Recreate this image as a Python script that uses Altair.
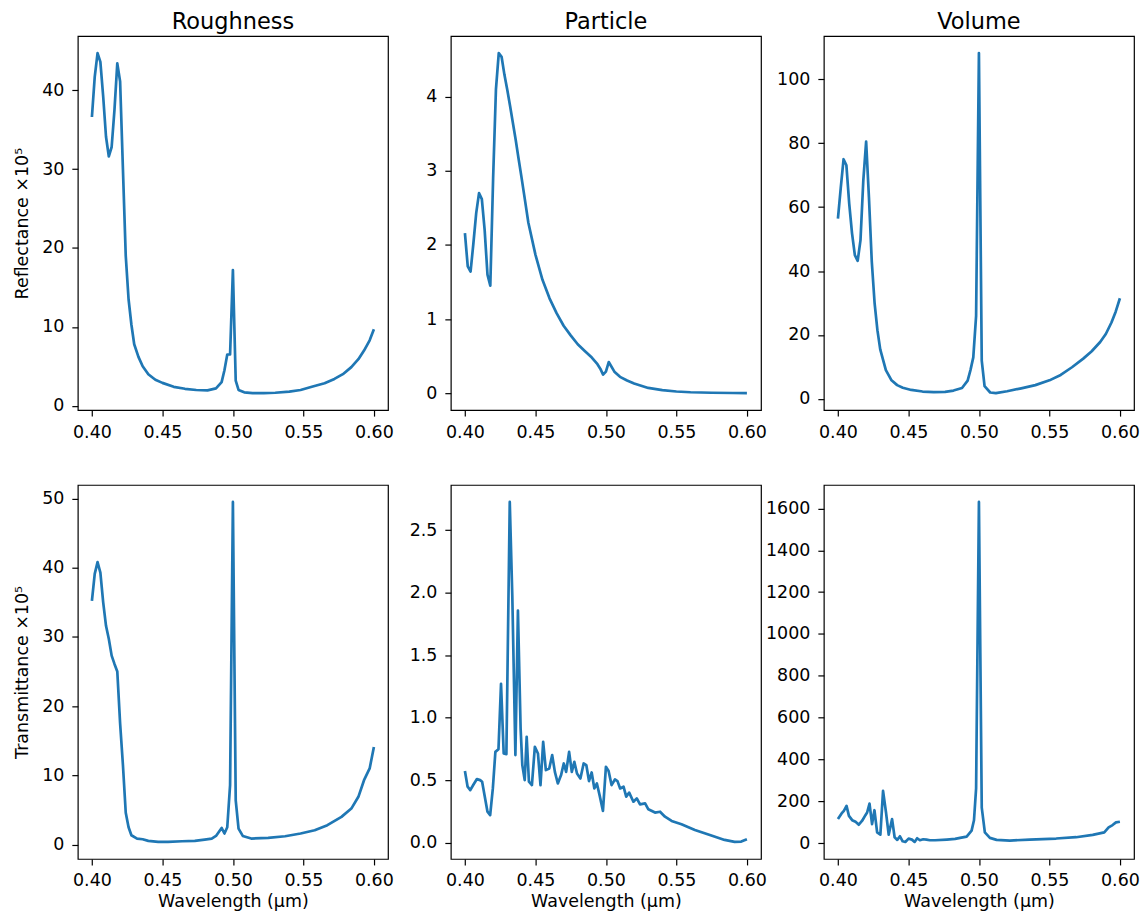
import altair as alt
import pandas as pd

# ---------------- data ----------------
x_ticks = [0.40, 0.45, 0.50, 0.55, 0.60]

# Roughness - reflectance (x1e5)
wl_rough_R = [0.400, 0.402, 0.404, 0.406, 0.408, 0.410, 0.412, 0.414, 0.416, 0.418, 0.420, 0.422, 0.424, 0.426, 0.428, 0.430,
              0.433, 0.436, 0.440, 0.445, 0.450, 0.458, 0.466, 0.474, 0.482, 0.488,
              0.492, 0.494, 0.496, 0.498, 0.500, 0.502, 0.504,
              0.508, 0.514, 0.522, 0.530, 0.540, 0.548, 0.556, 0.565, 0.572, 0.578, 0.584, 0.589, 0.593, 0.597, 0.600]
rough_R = [36.6, 41.7, 44.7, 43.6, 39.2, 34.1, 31.6, 32.8, 37.5, 43.4, 41.1, 30.0, 19.0, 13.5, 10.3, 7.8,
           6.2, 5.0, 4.0, 3.3, 2.9, 2.4, 2.15, 2.0, 1.95, 2.2,
           3.0, 4.5, 6.5, 6.5, 17.2, 3.2, 2.0,
           1.7, 1.6, 1.6, 1.65, 1.8, 2.0, 2.4, 2.85, 3.4, 4.0, 4.9, 5.9, 7.0, 8.3, 9.7]

# Particle - reflectance (x1e5)
wl_part_R = [0.400, 0.402, 0.404, 0.406, 0.408, 0.410, 0.412, 0.414, 0.416, 0.418, 0.420, 0.422, 0.424, 0.426, 0.428,
             0.430, 0.432, 0.434, 0.436, 0.438, 0.440, 0.442, 0.445, 0.450, 0.455, 0.460, 0.465, 0.470, 0.475,
             0.480, 0.485, 0.490,
             0.494, 0.496, 0.498, 0.500, 0.502,
             0.506, 0.510, 0.515, 0.520, 0.530, 0.540, 0.550, 0.560, 0.575, 0.590, 0.600]
part_R = [2.16, 1.71, 1.64, 2.02, 2.43, 2.70, 2.62, 2.20, 1.60, 1.45, 2.90, 4.10, 4.59, 4.54, 4.30,
          4.10, 3.88, 3.65, 3.42, 3.17, 2.93, 2.68, 2.30, 1.87, 1.53, 1.28, 1.08, 0.91, 0.78,
          0.66, 0.57, 0.48,
          0.39, 0.33, 0.25, 0.29, 0.42,
          0.29, 0.22, 0.17, 0.13, 0.07, 0.04, 0.022, 0.012, 0.005, 0.002, 0.0]

# Volume - reflectance (x1e5)
wl_vol_R = [0.400, 0.402, 0.404, 0.406, 0.408, 0.410, 0.412, 0.414, 0.416, 0.418, 0.420, 0.422, 0.424, 0.426, 0.428, 0.430,
            0.434, 0.438, 0.442, 0.446, 0.452, 0.460, 0.468, 0.476, 0.482, 0.488,
            0.492, 0.494, 0.496, 0.498, 0.500, 0.502, 0.504,
            0.508, 0.512, 0.520, 0.530, 0.540, 0.550, 0.558, 0.566, 0.574, 0.580, 0.586, 0.590, 0.594, 0.597, 0.600]
vol_R = [56.4, 66.0, 75.0, 73.1, 61.1, 51.8, 45.0, 43.2, 49.7, 68.4, 80.5, 63.0, 43.0, 30.0, 21.5, 15.5,
         9.0, 5.8, 4.3, 3.5, 2.8, 2.3, 2.1, 2.2, 2.6, 3.4,
         5.7, 9.0, 13.0, 26.0, 108.2, 12.0, 4.0,
         2.0, 1.8, 2.4, 3.3, 4.3, 5.8, 7.5, 9.9, 12.6, 14.9, 17.8, 20.3, 23.9, 27.3, 31.5]

# Roughness - transmittance (x1e5)
wl_rough_T = [0.400, 0.402, 0.404, 0.406, 0.408, 0.410, 0.412, 0.414, 0.416, 0.418, 0.420, 0.422, 0.424, 0.426, 0.428,
              0.432, 0.436, 0.440, 0.447, 0.454, 0.464, 0.473, 0.480, 0.485, 0.488,
              0.492, 0.494, 0.496, 0.498, 0.500, 0.502, 0.504,
              0.507, 0.513, 0.525, 0.537, 0.548, 0.558, 0.567, 0.577, 0.584, 0.589, 0.593, 0.597, 0.600]
rough_T = [35.2, 39.1, 40.8, 39.3, 35.0, 31.6, 29.7, 27.3, 26.1, 25.0, 17.5, 11.5, 4.6, 2.5, 1.35,
           0.87, 0.77, 0.53, 0.38, 0.38, 0.48, 0.53, 0.72, 0.87, 1.25,
           2.4, 1.6, 2.5, 8.6, 49.5, 6.4, 2.3,
           1.25, 0.87, 0.96, 1.2, 1.6, 2.07, 2.8, 4.0, 5.2, 6.9, 9.3, 11.0, 14.1]

# Particle - transmittance (x1e5)
wl_part_T = [0.4000, 0.4019, 0.4038, 0.4061, 0.4085, 0.4108, 0.4122, 0.4141, 0.4160, 0.4179,
             0.4198, 0.4216, 0.4238, 0.4256, 0.4275, 0.4294, 0.4318, 0.4336, 0.4358, 0.4376,
             0.4395, 0.4407, 0.4424, 0.4438, 0.4454, 0.4475, 0.4496, 0.4518, 0.4536, 0.4555,
             0.4574, 0.4598, 0.4619, 0.4638, 0.4659, 0.4682, 0.4701, 0.4718, 0.4739, 0.4758,
             0.4776, 0.4795, 0.4819, 0.4842, 0.4861, 0.4880, 0.4899, 0.4918, 0.4936, 0.4955,
             0.4979, 0.5000, 0.5019, 0.5040, 0.5064, 0.5082, 0.5101, 0.5125, 0.5144, 0.5165,
             0.5195, 0.5219, 0.5242, 0.5278, 0.5301, 0.5348, 0.5384, 0.5419, 0.5466, 0.5536,
             0.5631, 0.5748, 0.5842, 0.5913, 0.5960, 0.6000]
part_T = [0.572, 0.447, 0.420, 0.465, 0.508, 0.500, 0.487, 0.367, 0.247, 0.220,
          0.433, 0.726, 0.747, 1.271, 0.713, 0.707, 2.726, 1.976, 0.700, 1.856,
          0.912, 0.620, 0.500, 0.846, 0.487, 0.460, 0.766, 0.713, 0.460, 0.806,
          0.580, 0.593, 0.700, 0.566, 0.473, 0.540, 0.633, 0.566, 0.726, 0.566,
          0.646, 0.553, 0.513, 0.633, 0.620, 0.492, 0.561, 0.433, 0.473, 0.380,
          0.253, 0.606, 0.572, 0.460, 0.505, 0.492, 0.433, 0.447, 0.367, 0.400,
          0.327, 0.354, 0.306, 0.314, 0.266, 0.240, 0.247, 0.207, 0.173, 0.146,
          0.101, 0.056, 0.021, 0.005, 0.008, 0.027]

# Volume - transmittance (x1e5)
wl_vol_T = [0.4000, 0.4026, 0.4042, 0.4061, 0.4078, 0.4101, 0.4125, 0.4148, 0.4172, 0.4195,
            0.4207, 0.4224, 0.4242, 0.4259, 0.4278, 0.4301, 0.4320, 0.4341, 0.4360, 0.4384,
            0.4402, 0.4421, 0.4440, 0.4459, 0.4478, 0.4501, 0.4525, 0.4544, 0.4562, 0.4581,
            0.4605, 0.4628, 0.4652, 0.4689, 0.4772, 0.4831, 0.4866, 0.4913, 0.4948, 0.4965,
            0.4980, 0.5000, 0.5020, 0.5042, 0.5078, 0.5125, 0.5219, 0.5360, 0.5548, 0.5689,
            0.5807, 0.5889, 0.5920, 0.5948, 0.5972, 0.6000]
vol_T = [115.5, 142.5, 154.8, 178.4, 131.0, 110.3, 102.5, 88.6, 107.6, 134.2,
         146.9, 189.5, 91.8, 157.9, 52.3, 41.2, 250.2, 146.9, 41.2, 115.5,
         28.5, 16.0, 33.3, 9.5, 6.3, 22.2, 17.4, 6.3, 23.8, 14.3,
         19.0, 17.4, 14.3, 14.3, 17.8, 20.9, 25.7, 32.0, 60.5, 110.0,
         262.0, 1631.0, 170.0, 52.3, 25.7, 16.2, 13.0, 17.8, 22.6, 28.9,
         40.0, 52.3, 76.0, 87.0, 100.0, 103.0]

col_titles = ["Roughness", "Particle", "Volume"]
row_titles = ["Reflectance ×10⁵", "Transmittance ×10⁵"]
x_title = "Wavelength (µm)"

# ---------------- helpers ----------------
FONT = "DejaVu Sans"
LINE = "#1f77b4"
PW, PH = 311, 375


def mpl_domain(vals, frac=0.05):
    lo, hi = min(vals), max(vals)
    r = hi - lo
    return [lo - frac * r, hi + frac * r]


def panel(wl, vals, yticks, yfmt, title=None, ytitle=None, xtitle=None):
    df = pd.DataFrame({"wl": wl, "v": vals})
    xaxis = alt.Axis(values=x_ticks, format=".2f", title=xtitle, labelPadding=7, titlePadding=3)
    yaxis = alt.Axis(values=yticks, format=yfmt, title=ytitle, labelPadding=8, titlePadding=10)
    ch = alt.Chart(df).mark_line(color=LINE, strokeWidth=2.7, strokeJoin="round").encode(
        x=alt.X("wl:Q", scale=alt.Scale(domain=mpl_domain(wl), nice=False, zero=False), axis=xaxis),
        y=alt.Y("v:Q", scale=alt.Scale(domain=mpl_domain(vals), nice=False, zero=False), axis=yaxis),
    )
    if title:
        ch = ch.properties(width=PW, height=PH,
                           title=alt.TitleParams(text=title, fontSize=22.5, fontWeight="normal", font=FONT,
                                                 color="black", offset=3))
    else:
        ch = ch.properties(width=PW, height=PH)
    return ch


p1 = panel(wl_rough_R, rough_R, [0, 10, 20, 30, 40], "d", title=col_titles[0], ytitle=row_titles[0])
p2 = panel(wl_part_R, part_R, [0, 1, 2, 3, 4], "d", title=col_titles[1])
p3 = panel(wl_vol_R, vol_R, [0, 20, 40, 60, 80, 100], "d", title=col_titles[2])
p4 = panel(wl_rough_T, rough_T, [0, 10, 20, 30, 40, 50], "d", ytitle=row_titles[1], xtitle=x_title)
p5 = panel(wl_part_T, part_T, [0.0, 0.5, 1.0, 1.5, 2.0, 2.5], ".1f", xtitle=x_title)
p6 = panel(wl_vol_T, vol_T, [0, 200, 400, 600, 800, 1000, 1200, 1400, 1600], "d", xtitle=x_title)

chart = alt.concat(
    p1, p2, p3, p4, p5, p6,
    columns=3, spacing={"row": 75, "column": 63}, bounds="flush"
).properties(
    padding={"left": 5, "top": 0, "right": 0, "bottom": 0}
).configure_view(
    stroke="black", strokeWidth=1.2
).configure_axis(
    domain=False, grid=False,
    tickColor="black", tickSize=6, tickWidth=1.2,
    labelFont=FONT, labelFontSize=17.5, labelColor="black",
    titleFont=FONT, titleFontSize=17.5, titleFontWeight="normal", titleColor="black",
)

chart.save("out.html", embed_options={"renderer": "svg", "actions": False})
